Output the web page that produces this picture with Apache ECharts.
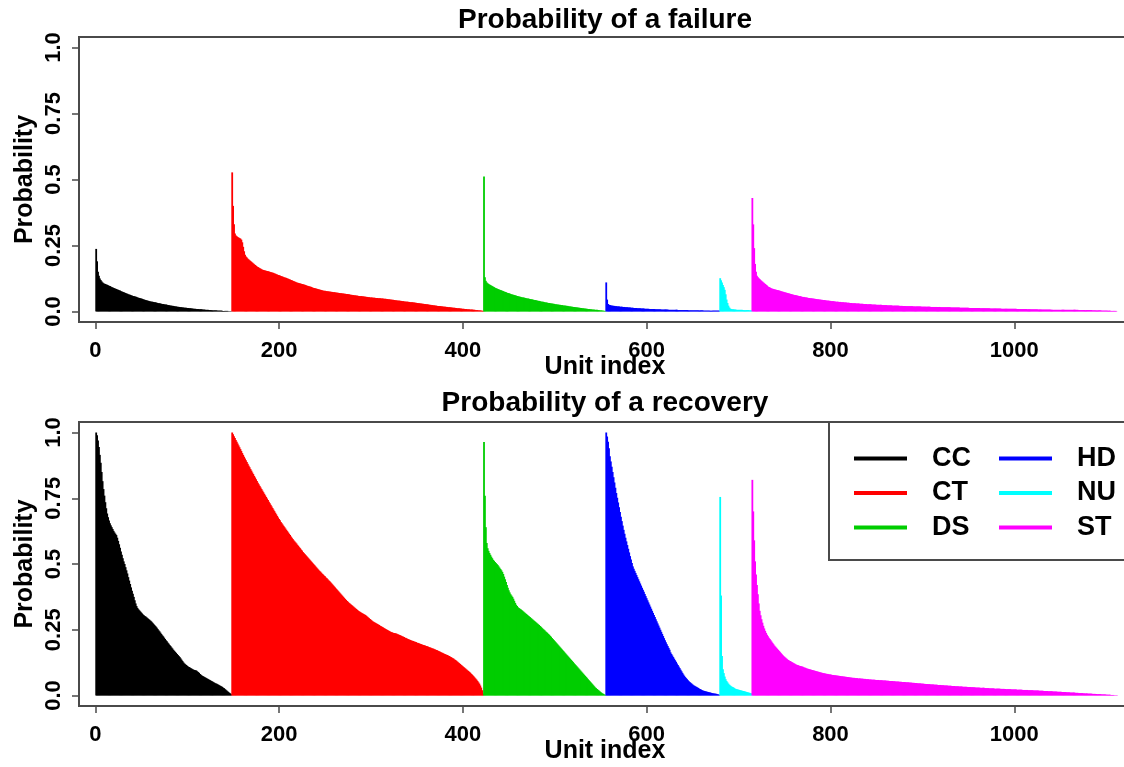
<!DOCTYPE html>
<html>
<head>
<meta charset="utf-8">
<script src="https://cdn.jsdelivr.net/npm/echarts@6/dist/echarts.min.js"></script>
<style>html,body{margin:0;padding:0;background:#fff}#c{width:1124px;height:767px}</style>
</head>
<body>
<div id="c"></div>
<script>
// ---------- DATA (values in thousandths of probability, one per unit, sorted within group) ----------
const groups = ['CC', 'CT', 'DS', 'HD', 'NU', 'ST'];
const groupStart = [1, 149, 423, 556, 680, 715];
const groupColors = ['#000000', '#FF0000', '#00CD00', '#0000FF', '#00FFFF', '#FF00FF'];
const xTicks = [0, 200, 400, 600, 800, 1000];
const yTicks = [0, 0.25, 0.5, 0.75, 1];
const yTickLabels = ['0.0', '0.25', '0.5', '0.75', '1.0'];
const titles = ['Probability of a failure', 'Probability of a recovery'];

// Probability of a failure
const failCC = [237,190,150,135,125,119,114,110,107,105,104,102,101,99,97,96,94,92,91,89,88,86,85,83,82,80,79,77,76,74,73,71,70,68,67,65,64,63,61,60,59,58,57,56,55,53,52,51,50,49,48,46,45,44,43,42,41,40,39,38,37,37,36,35,35,34,33,32,31,31,30,29,28,28,27,26,26,25,24,24,23,22,22,21,21,20,19,19,18,18,17,17,16,16,15,15,14,14,14,13,13,12,12,12,11,11,10,10,10,9,9,9,8,8,8,8,7,7,7,6,6,6,6,5,5,5,5,4,4,4,4,4,3,3,3,3,3,3,2,2,2,2,2,2,1,1,1,1];
const failCT = [527,400,330,295,288,285,282,280,278,276,272,262,245,228,215,208,204,200,197,194,191,188,185,182,179,176,173,170,168,166,164,162,160,158,157,156,155,154,153,152,151,150,149,148,147,146,144,143,141,140,138,137,136,134,133,132,130,129,128,127,125,124,122,121,119,118,116,115,113,112,110,109,108,107,106,105,104,103,102,101,100,98,97,96,95,94,93,91,90,89,88,87,86,85,84,83,82,81,80,79,78,78,77,77,76,76,75,75,74,74,73,73,72,72,71,71,70,70,69,69,68,68,67,67,66,66,65,65,64,63,63,62,62,61,61,60,60,59,59,58,58,58,57,57,56,56,55,55,54,54,53,53,53,52,52,52,51,51,51,50,50,50,49,49,49,48,48,48,47,47,46,46,45,45,44,44,43,43,42,42,41,41,41,40,40,39,39,38,38,37,37,37,36,36,35,35,35,34,34,33,33,32,32,31,31,30,30,29,29,28,28,27,27,26,26,25,25,24,24,23,23,22,22,21,21,21,20,20,19,19,18,18,18,17,17,16,16,16,15,15,14,14,14,13,13,12,12,12,11,11,10,10,10,9,9,9,8,8,8,7,7,7,6,6,6,5,5,5,4,4,4,3,3,2];
const failDS = [511,130,116,110,107,104,102,100,98,96,94,92,90,88,87,85,84,82,81,80,78,77,75,74,73,71,70,69,68,66,65,64,63,62,61,60,59,58,57,56,55,54,53,53,52,51,50,49,49,48,47,46,46,45,44,43,43,42,41,40,40,39,38,37,37,36,35,34,34,33,32,32,31,30,30,29,29,28,27,27,26,26,25,25,24,24,23,23,22,22,21,21,20,19,19,18,18,17,17,16,16,15,15,14,14,13,13,12,12,11,11,10,10,9,9,9,8,8,7,7,7,6,6,6,5,5,4,4,4,3,3,2,2];
const failHD = [110,45,28,25,24,23,22,22,21,21,20,20,19,19,19,18,18,18,17,17,17,16,16,16,15,15,15,14,14,14,13,13,13,13,12,12,12,12,11,11,11,11,10,10,10,10,10,9,9,9,9,9,9,8,8,8,8,8,8,8,7,7,7,7,7,7,7,7,6,6,6,6,6,6,6,6,6,6,5,5,5,5,5,5,5,5,5,5,5,5,4,4,4,4,4,4,4,4,4,4,4,4,4,4,4,4,3,3,3,3,3,3,3,3,3,3,3,3,3,3,3,3,3,3];
const failNU = [126,118,110,100,92,82,65,45,32,22,15,11,9,8,8,7,7,7,6,6,6,6,6,6,6,5,5,5,5,5,5,5,4,4,4];
const failST = [430,330,240,180,150,135,130,126,123,119,116,113,110,107,104,101,98,95,93,91,89,87,86,85,84,83,82,81,80,79,78,77,76,75,74,73,72,71,70,69,68,67,66,65,64,63,62,62,61,60,59,58,58,57,56,55,55,54,53,53,52,51,51,50,50,49,49,48,48,47,47,46,46,45,45,44,44,43,43,42,42,41,41,41,40,40,39,39,39,38,38,37,37,37,36,36,36,35,35,35,34,34,34,33,33,33,32,32,32,31,31,31,31,30,30,30,30,29,29,29,29,28,28,28,28,27,27,27,27,27,26,26,26,26,26,25,25,25,25,25,25,24,24,24,24,24,24,23,23,23,23,23,23,22,22,22,22,22,22,22,21,21,21,21,21,21,21,20,20,20,20,20,20,20,20,19,19,19,19,19,19,19,19,19,18,18,18,18,18,18,18,18,18,18,17,17,17,17,17,17,17,17,17,17,17,16,16,16,16,16,16,16,16,16,16,16,15,15,15,15,15,15,15,15,15,15,14,14,14,14,14,14,14,14,14,14,13,13,13,13,13,13,13,13,13,13,13,13,12,12,12,12,12,12,12,12,12,12,12,11,11,11,11,11,11,11,11,11,11,11,11,10,10,10,10,10,10,10,10,10,10,10,10,10,10,10,10,10,9,9,9,9,9,9,9,9,9,9,9,8,8,8,8,8,8,8,8,8,8,8,8,7,7,7,7,7,7,7,7,7,7,7,7,7,7,6,6,6,6,6,6,6,6,6,6,6,6,6,6,6,6,6,6,6,6,6,6,6,6,6,6,6,6,6,6,5,5,5,5,5,5,5,5,5,5,5,5,5,5,5,4,4,4,4,4,4,4,4,4,4,3,3,3,3,3,3,3,3,3,3,2,2,2,2,2,2,2];

// Probability of a recovery
const recCC = [1000,990,970,945,915,885,850,815,785,760,735,712,692,678,665,655,647,640,633,626,620,615,610,600,588,575,562,548,535,522,510,500,488,476,464,450,437,424,411,398,387,375,362,350,340,333,328,324,320,316,312,308,305,302,300,297,294,291,288,285,282,278,274,270,266,262,258,253,248,244,239,234,229,225,220,215,210,206,201,197,192,188,183,179,174,170,166,162,158,154,150,146,141,136,131,126,122,119,116,113,110,108,106,104,102,100,98,97,96,95,92,89,86,82,79,76,74,72,70,68,66,64,62,60,58,56,54,52,50,48,46,45,43,41,39,37,35,33,30,28,25,22,19,16,13,10,8,5];
const recCT = [1000,993,986,979,972,965,958,951,944,937,930,922,915,908,901,895,888,881,874,868,861,855,848,842,835,829,822,816,809,803,797,791,785,779,773,767,761,755,749,743,737,731,725,719,713,707,701,695,689,683,677,671,666,660,655,650,645,640,635,630,625,620,615,610,605,600,595,590,586,582,578,573,569,564,560,555,551,546,542,538,534,530,526,522,518,514,510,506,502,498,494,490,486,482,478,474,471,467,463,460,456,453,449,446,442,438,435,431,427,423,419,415,411,407,403,399,395,391,387,383,379,375,371,367,363,359,356,353,350,347,344,341,338,335,332,329,326,323,320,318,316,314,312,310,308,306,303,300,297,294,291,288,285,282,280,278,276,274,272,270,268,265,263,261,259,257,255,253,251,249,247,245,243,241,240,239,238,237,236,235,233,232,230,229,227,225,224,222,220,219,217,215,214,212,211,209,208,207,205,204,203,201,200,199,197,196,195,193,192,191,190,188,187,186,184,183,182,180,179,178,176,175,173,172,170,168,167,165,163,162,160,158,157,155,154,152,150,148,146,144,142,140,137,135,132,129,126,123,120,117,114,111,108,105,102,99,96,93,90,87,83,80,76,72,68,64,60,55,50,45,38,30,20,8];
const recDS = [964,760,640,580,560,550,542,535,528,522,516,512,508,504,500,496,491,486,481,476,470,462,452,442,432,420,410,400,392,385,380,375,368,360,352,345,340,336,333,330,328,325,322,319,316,313,310,307,304,301,298,295,292,289,286,283,280,277,274,271,268,264,261,258,254,251,248,244,241,238,234,231,227,223,219,215,211,207,203,199,195,191,187,183,179,175,171,167,163,159,155,151,147,143,139,135,131,127,123,119,115,111,107,103,99,95,91,87,83,79,75,71,67,63,59,55,51,47,43,39,35,31,28,25,22,19,16,13,10,8,6,4,2];
const recHD = [1000,985,965,940,910,890,870,850,830,810,790,770,752,734,716,698,680,663,646,630,615,600,586,572,558,544,530,517,504,491,482,474,466,458,450,442,434,426,418,410,402,394,386,378,370,362,354,346,338,330,322,314,306,298,290,282,274,266,258,250,242,234,226,218,210,202,195,188,181,174,164,158,152,146,140,134,128,122,116,110,104,98,92,86,80,75,70,66,62,58,54,51,48,45,42,39,37,35,33,31,29,27,25,23,21,19,18,17,16,15,14,13,12,11,10,9,8,8,7,7,6,5,4,3];
const recNU = [755,380,150,100,85,72,62,55,50,45,41,38,35,33,31,29,27,25,24,23,22,21,20,19,18,17,16,15,14,13,12,11,10,9,8];
const recST = [820,700,590,510,460,420,385,350,322,305,290,277,265,255,246,238,231,225,220,215,210,205,200,195,190,186,182,178,174,170,166,162,158,154,150,147,144,141,138,135,133,131,129,127,125,123,121,119,117,116,115,113,112,111,110,109,107,106,105,103,102,101,100,99,98,97,96,95,94,93,92,91,90,89,88,87,86,85,85,84,83,82,82,81,80,80,79,78,78,77,77,76,76,75,75,74,74,73,73,72,72,71,71,70,70,69,69,68,68,67,67,67,66,66,66,65,65,65,64,64,64,63,63,63,62,62,62,61,61,61,60,60,60,60,59,59,59,59,58,58,58,58,57,57,57,57,56,56,56,55,55,55,55,54,54,54,53,53,53,53,52,52,52,51,51,51,51,50,50,50,50,49,49,49,48,48,48,47,47,47,46,46,46,46,45,45,45,44,44,44,44,43,43,43,42,42,42,42,41,41,41,41,40,40,40,40,39,39,39,38,38,38,38,37,37,37,37,36,36,36,36,35,35,35,35,34,34,34,34,33,33,33,33,33,32,32,32,32,31,31,31,31,31,30,30,30,30,30,29,29,29,29,29,28,28,28,28,28,27,27,27,27,27,27,26,26,26,26,26,26,25,25,25,25,25,25,24,24,24,24,24,24,23,23,23,23,23,23,22,22,22,22,22,22,21,21,21,21,21,21,20,20,20,20,20,20,19,19,19,19,19,19,18,18,18,18,18,17,17,17,17,17,16,16,16,16,16,15,15,15,15,15,14,14,14,14,14,13,13,13,13,13,12,12,12,12,11,11,11,11,11,10,10,10,10,9,9,9,9,9,8,8,8,8,8,7,7,7,7,7,6,6,6,6,6,5,5,5,5,5,4,4,4,4,4,3,3,3,3,3,2,2,2,2,1,1,1,1];

const failData = [failCC, failCT, failDS, failHD, failNU, failST];
const recData = [recCC, recCT, recDS, recHD, recNU, recST];

// ---------- CHART ----------
const FONT = 'Liberation Sans, Arial, Helvetica, sans-serif';
const AXC = '#4a4a4a';
const gridTops = [37, 422];
const gridHeights = [285, 284];
const GRID_LEFT = 79, GRID_W = 1052;
const X_MIN = -17.7, X_MAX = 1127;

function fmtY(v) {
  for (let i = 0; i < yTicks.length; i++) if (Math.abs(yTicks[i] - v) < 1e-6) return yTickLabels[i];
  return '';
}

const grids = gridTops.map((t, i) => ({
  left: GRID_LEFT, top: t, width: GRID_W, height: gridHeights[i],
  outerBoundsMode: 'none', containLabel: false,
  show: true, borderColor: AXC, borderWidth: 2, backgroundColor: 'transparent'
}));

const xAxes = [0, 1].map(i => ({
  type: 'value', gridIndex: i, min: X_MIN, max: X_MAX,
  name: 'Unit index', nameLocation: 'middle', nameGap: 33, nameMoveOverlap: false,
  nameTextStyle: { fontFamily: FONT, fontSize: 25, fontWeight: 'bold', color: '#000' },
  axisLine: { show: true, onZero: false, lineStyle: { color: AXC, width: 2 } },
  axisTick: { show: true, length: 7, inside: false, customValues: xTicks, lineStyle: { color: AXC, width: 1.5 } },
  axisLabel: { customValues: xTicks, margin: 18, formatter: v => String(v), fontFamily: FONT, fontSize: 22, fontWeight: 'bold', color: '#000' },
  splitLine: { show: false }
}));

const yAxes = [0, 1].map(i => ({
  type: 'value', gridIndex: i, min: -0.04, max: 1.04,
  name: 'Probability', nameLocation: 'middle', nameGap: 41, nameMoveOverlap: false,
  nameTextStyle: { fontFamily: FONT, fontSize: 25, fontWeight: 'bold', color: '#000' },
  axisLine: { show: true, onZero: false, lineStyle: { color: AXC, width: 2 } },
  axisTick: { show: true, length: 7, inside: false, customValues: yTicks, lineStyle: { color: AXC, width: 1.5 } },
  axisLabel: { customValues: yTicks, rotate: 90, margin: 14, formatter: fmtY, fontFamily: FONT, fontSize: 22, fontWeight: 'bold', color: '#000' },
  splitLine: { show: false }
}));

const series = [];
[failData, recData].forEach((panel, p) => {
  panel.forEach((vals, g) => {
    series.push({
      type: 'bar', name: groups[g], xAxisIndex: p, yAxisIndex: p,
      data: vals.map((v, i) => [groupStart[g] + i, v / 1000]),
      barWidth: 1.8, barGap: '-100%',
      itemStyle: { color: groupColors[g] },
      silent: true, animation: false
    });
  });
});

const legendCommon = {
  orient: 'vertical', top: 445, itemWidth: 53, itemHeight: 4, itemGap: 7.5,
  icon: 'rect', padding: 0, selectedMode: false,
  textStyle: { fontFamily: FONT, fontSize: 27, fontWeight: 'bold', color: '#000', padding: [0, 0, 0, 20] }
};

const option = {
  animation: false,
  backgroundColor: '#ffffff',
  textStyle: { fontFamily: FONT },
  title: titles.map((t, i) => ({
    text: t, left: 605, top: [20, 403][i], textAlign: 'center', textVerticalAlign: 'middle', padding: 0,
    textStyle: { fontFamily: FONT, fontSize: 28, fontWeight: 'bold', color: '#000' }
  })),
  grid: grids,
  xAxis: xAxes,
  yAxis: yAxes,
  legend: [
    Object.assign({}, legendCommon, { left: 854, data: groups.slice(0, 3) }),
    Object.assign({}, legendCommon, { left: 999, data: groups.slice(3) })
  ],
  graphic: [{
    type: 'rect', z: 3,
    shape: { x: 829, y: 422, width: 320, height: 138 },
    style: { fill: '#ffffff', stroke: AXC, lineWidth: 2 }
  }],
  series: series
};

const chart = echarts.init(document.getElementById('c'), null, { renderer: 'canvas' });
chart.setOption(option);
</script>
</body>
</html>
